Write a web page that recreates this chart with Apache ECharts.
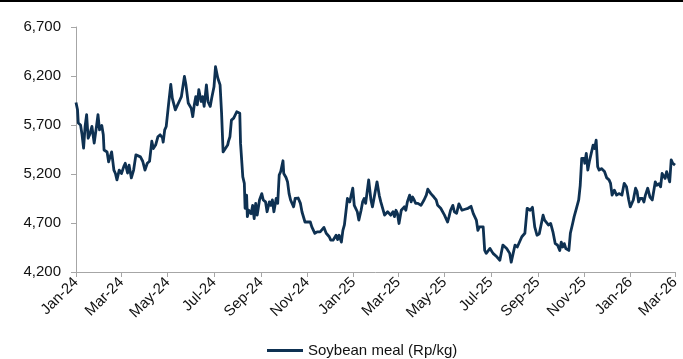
<!DOCTYPE html>
<html>
<head>
<meta charset="utf-8">
<script src="https://cdn.jsdelivr.net/npm/echarts@6/dist/echarts.min.js"></script>
<style>
  html, body { margin: 0; padding: 0; background: #fff; }
  #chart { width: 683px; height: 359px; }
</style>
</head>
<body>
<div id="chart"></div>
<script>
// days counted from 1 Jan 2024
const dayOffsets = [
  0, 2, 3, 6, 8, 10, 12, 14, 16, 18,
  21, 22, 24, 27, 29, 31, 34, 36, 37, 41,
  43, 47, 49, 50, 52, 54, 57, 60, 63, 65,
  68, 70, 73, 76, 79, 81, 85, 88, 91, 94,
  97, 100, 102, 105, 108, 111, 114, 115, 117, 119,
  122, 125, 127, 131, 134, 137, 139, 143, 145, 148,
  152, 154, 156, 158, 160, 162, 165, 167, 169, 172,
  174, 177, 179, 182, 184, 187, 190, 192, 194, 196,
  200, 201, 203, 205, 208, 209, 212, 214, 216, 217,
  220, 222, 223, 225, 226, 228, 231, 233, 235, 237,
  239, 242, 245, 247, 250, 252, 255, 257, 259, 261,
  264, 266, 268, 270, 273, 274, 277, 279, 281, 283,
  285, 287, 289, 291, 293, 296, 298, 300, 302, 304,
  306, 309, 311, 313, 315, 318, 320, 322, 324, 327,
  330, 332, 334, 336, 339, 341, 343, 345, 347, 350,
  352, 354, 356, 358, 361, 363, 365, 367, 369, 371,
  373, 376, 378, 380, 382, 384, 386, 389, 391, 393,
  395, 397, 400, 402, 404, 407, 409, 411, 413, 415,
  418, 420, 422, 424, 426, 429, 431, 433, 435, 437,
  440, 442, 444, 446, 448, 451, 453, 455, 457, 459,
  462, 464, 466, 468, 470, 472, 475, 477, 479, 481,
  483, 486, 488, 490, 492, 494, 497, 499, 502, 505,
  509, 513, 517, 521, 524, 528, 530, 532, 537, 539,
  541, 546, 550, 555, 559, 563, 568, 572, 574, 579,
  582, 588, 592, 595, 599, 602, 605, 608, 611, 616,
  618, 620, 623, 626, 629, 632, 635, 638, 640, 642,
  644, 646, 650, 652, 655, 657, 660, 663, 665, 667,
  670, 671, 673, 675, 677, 679, 682, 684, 686, 688,
  690, 693, 697, 700, 703, 705, 707, 710, 713, 716,
  720, 723, 726, 729, 731, 735, 738, 740, 742, 744,
  747, 749, 751, 754, 757, 760, 762, 764, 766, 769,
  771, 773, 775, 777, 779, 783, 785, 787, 790
]

// Soybean meal price, Rp/kg
const prices = [
  5930, 5855, 5720, 5700, 5600, 5465, 5685, 5805, 5565, 5600,
  5685, 5700, 5515, 5685, 5805, 5650, 5695, 5600, 5445, 5425,
  5325, 5425, 5435, 5240, 5205, 5140, 5240, 5205, 5275, 5310,
  5210, 5290, 5160, 5240, 5395, 5415, 5375, 5330, 5240, 5310,
  5330, 5535, 5460, 5495, 5580, 5600, 5570, 5525, 5650, 5685,
  5905, 6115, 5975, 5855, 5905, 5955, 5990, 6195, 6110, 5925,
  5870, 5785, 5905, 5990, 5905, 6060, 5940, 5990, 5890, 6110,
  5940, 5890, 5975, 6090, 6295, 6180, 6110, 5820, 5425, 5410,
  5495, 5530, 5580, 5750, 5770, 5750, 5835, 5855, 5820, 5515,
  5170, 5105, 4850, 4985, 4765, 4830, 4795, 4880, 4745, 4900,
  4780, 4935, 5000, 4935, 4915, 4815, 4915, 4880, 4935, 4815,
  4950, 4900, 5190, 5225, 5335, 5205, 5165, 5120, 5000, 4935,
  4950, 4865, 4950, 4935, 4955, 4900, 4815, 4795, 4710, 4730,
  4710, 4710, 4660, 4645, 4595, 4610, 4595, 4610, 4595, 4655,
  4595, 4575, 4560, 4525, 4525, 4505, 4575, 4530, 4575, 4505,
  4625, 4680, 4815, 4950, 4915, 4985, 5055, 4880, 4865, 4815,
  4730, 4830, 4915, 4950, 4900, 5020, 5140, 4935, 4865, 4950,
  4965, 5120, 4980, 4915, 4935, 4780, 4765, 4815, 4815, 4780,
  4815, 4765, 4830, 4795, 4695, 4830, 4815, 4865, 4830, 4915,
  4985, 4915, 4965, 4935, 4900, 4900, 4880, 4880, 4865, 4935,
  4985, 5045, 5035, 5000, 4985, 4965, 4935, 4880, 4865, 4850,
  4830, 4780, 4780, 4710, 4765, 4830, 4880, 4815, 4800, 4895,
  4830, 4840, 4850, 4870, 4795, 4730, 4625, 4660, 4660, 4420,
  4390, 4440, 4390, 4355, 4320, 4475, 4440, 4390, 4300, 4475,
  4455, 4560, 4595, 4850, 4830, 4860, 4660, 4575, 4590, 4780,
  4730, 4730, 4680, 4695, 4610, 4490, 4475, 4420, 4505, 4455,
  4490, 4440, 4420, 4595, 4695, 4765, 4850, 4935, 5085, 5360,
  5360, 5310, 5410, 5240, 5325, 5310, 5495, 5460, 5545, 5275,
  5240, 5255, 5225, 5160, 5140, 5105, 4985, 5035, 4985, 5000,
  4985, 5105, 5070, 4935, 4865, 4935, 5055, 5020, 4915, 4950,
  4950, 4915, 4985, 5055, 4965, 4935, 4935, 5120, 5085, 5100,
  5070, 5205, 5190, 5155, 5225, 5120, 5345, 5310, 5290
]

// two-monthly axis ticks (days from 1 Jan 2024)
const tickDays = [0, 60, 121, 182, 244, 305, 366, 425, 486, 547, 609, 670, 731, 790]
const tickLabels = ['Jan-24', 'Mar-24', 'May-24', 'Jul-24', 'Sep-24', 'Nov-24', 'Jan-25',
  'Mar-25', 'May-25', 'Jul-25', 'Sep-25', 'Nov-25', 'Jan-26', 'Mar-26']

const seriesName = 'Soybean meal (Rp/kg)'
const lineColor = '#0E3152'
const axisColor = '#A6A6A6'
const textColor = '#111'
const fontFamily = '"Liberation Sans", Arial, sans-serif'

const chart = echarts.init(document.getElementById('chart'), null, { renderer: 'canvas' })

const seriesData = dayOffsets.map((d, i) => [d, prices[i]])

chart.setOption({
  animation: false,
  backgroundColor: '#fff',
  graphic: [{
    type: 'rect',
    shape: { x: 0, y: 0, width: 683, height: 2 },
    style: { fill: '#000' }
  }],
  grid: { left: 76, right: 8, top: 27, bottom: 87 },
  legend: {
    left: 262,
    top: 338,
    icon: 'rect',
    itemWidth: 36,
    itemHeight: 3,
    textStyle: { fontFamily, fontSize: 15, color: textColor },
    data: [seriesName]
  },
  xAxis: {
    type: 'value',
    min: 0,
    max: 790,
    splitLine: { show: false },
    axisLine: { lineStyle: { color: axisColor, width: 1 } },
    axisTick: { show: true, length: 5, customValues: tickDays, lineStyle: { color: axisColor } },
    axisLabel: {
      customValues: tickDays,
      rotate: 45,
      margin: 8,
      fontFamily,
      fontSize: 15,
      color: textColor,
      formatter: v => tickLabels[tickDays.indexOf(v)] || ''
    }
  },
  yAxis: {
    type: 'value',
    min: 4200,
    max: 6700,
    interval: 500,
    splitLine: { show: false },
    axisLine: { show: true, lineStyle: { color: axisColor, width: 1 } },
    axisTick: { show: true, length: 5, lineStyle: { color: axisColor } },
    axisLabel: {
      margin: 15,
      fontFamily,
      fontSize: 15,
      color: textColor,
      formatter: v => v.toLocaleString('en-US')
    }
  },
  series: [{
    name: seriesName,
    type: 'line',
    data: seriesData,
    showSymbol: false,
    symbol: 'none',
    lineStyle: { color: lineColor, width: 2.8, join: 'round' },
    itemStyle: { color: lineColor }
  }]
})
</script>
</body>
</html>
